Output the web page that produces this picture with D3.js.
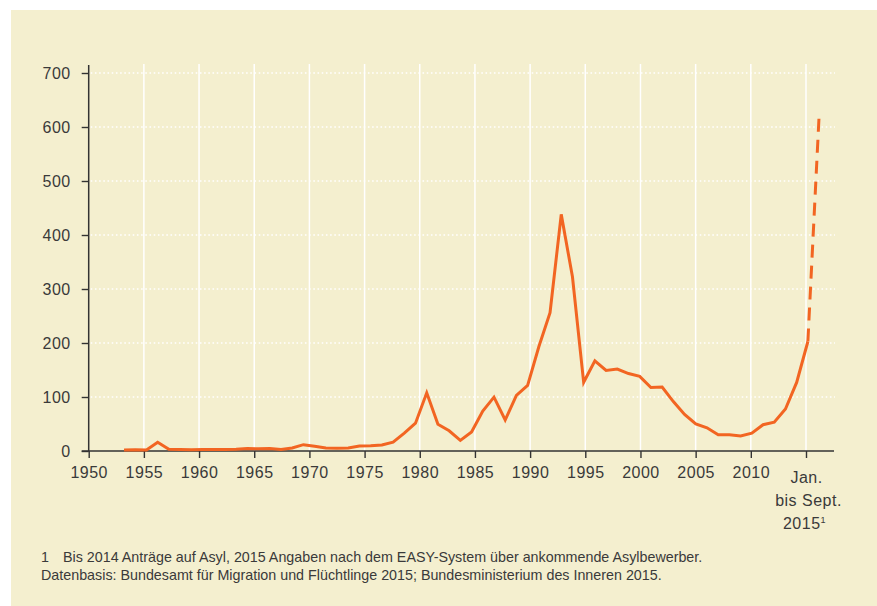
<!DOCTYPE html>
<html>
<head>
<meta charset="utf-8">
<script src="https://cdn.jsdelivr.net/npm/d3@7"></script>
<style>
  html, body { margin: 0; padding: 0; background: #ffffff; }
  svg { display: block; }
  text { font-family: "Liberation Sans", Arial, sans-serif; fill: #3a3a3a; }
</style>
</head>
<body>
<svg id="chart" width="877" height="606"></svg>
<script>
// ---- data (thousands of asylum applications) ----
const years = [1953,1954,1955,1956,1957,1958,1959,1960,1961,1962,1963,1964,1965,1966,1967,1968,1969,
  1970,1971,1972,1973,1974,1975,1976,1977,1978,1979,1980,1981,1982,1983,1984,1985,1986,1987,1988,1989,
  1990,1991,1992,1993,1994,1995,1996,1997,1998,1999,2000,2001,2002,2003,2004,2005,2006,2007,2008,2009,
  2010,2011,2012,2013,2014];
const applications = [1.9,2.2,1.9,16.3,3.1,2.8,2.3,3.0,2.7,2.6,3.2,4.5,4.3,4.4,3.0,5.6,11.7,
  8.6,5.4,5.3,5.6,9.4,9.6,11.1,16.4,33.1,51.5,107.8,49.4,37.4,19.7,35.3,73.8,99.7,57.4,103.1,121.3,
  193.1,256.1,438.2,322.6,127.2,167.0,149.2,151.7,143.4,138.3,117.6,118.3,91.5,67.8,50.2,42.9,30.1,30.3,28.0,33.0,
  48.6,53.3,77.7,127.0,202.8];
const projYears = [2014, 2015];
const projValues = [202.8, 620];
const xTicks = [1950,1955,1960,1965,1970,1975,1980,1985,1990,1995,2000,2005,2010,2015];
const lastTickLines = ["Jan.", "bis Sept.", "2015"];
const yTicks = [0,100,200,300,400,500,600,700];
const footnotes = [
  "Bis 2014 Anträge auf Asyl, 2015 Angaben nach dem EASY-System über ankommende Asylbewerber.",
  "Datenbasis: Bundesamt für Migration und Flüchtlinge 2015; Bundesministerium des Inneren 2015."
];

// ---- layout ----
const svg = d3.select("#chart");
const bg = "#f4efcf";
const orange = "#f26522";

svg.append("rect").attr("x", 11).attr("y", 10).attr("width", 866).attr("height", 596).attr("fill", bg);

const x = d3.scaleLinear().domain([1950, 2015]).range([88.7, 806]);
// data positions run on their own slightly wider scale (as in the original graphic)
const xd = d3.scaleLinear().domain([1956, 2014]).range([x(1956.25), x(2015.17)]);
const y = d3.scaleLinear().domain([0, 700]).range([451, 73]);

const gridRight = 835, gridTop = 64;

// vertical white grid lines
svg.append("g").selectAll("line").data(xTicks.slice(1)).join("line")
  .attr("x1", d => x(d)).attr("x2", d => x(d))
  .attr("y1", y(0)).attr("y2", gridTop)
  .attr("stroke", "#ffffff").attr("stroke-width", 1.5);

// horizontal dotted grid lines
svg.append("g").selectAll("line").data(yTicks.slice(1)).join("line")
  .attr("x1", x(1950) + 2).attr("x2", gridRight)
  .attr("y1", d => y(d)).attr("y2", d => y(d))
  .attr("stroke", "#ffffff").attr("stroke-width", 1.6)
  .attr("stroke-dasharray", "1.6,2.6");

// axes
const axisColor = "#333333";
const yAxis = d3.axisLeft(y).tickValues(yTicks).tickSize(7).tickPadding(11).tickFormat(d3.format("d"));
const gy = svg.append("g").attr("transform", `translate(${x(1950)},0)`).call(yAxis);
gy.select(".domain").remove();
gy.selectAll(".tick line").attr("stroke", axisColor).attr("stroke-width", 1.4);
gy.selectAll(".tick text").style("font-size", "16px").style("letter-spacing", "0.5px")
  .attr("fill", "#3a3a3a").attr("font-family", null);
svg.append("line").attr("x1", x(1950)).attr("x2", x(1950)).attr("y1", y(0)).attr("y2", 65)
  .attr("stroke", axisColor).attr("stroke-width", 1.5);

const xAxis = d3.axisBottom(x).tickValues(xTicks).tickSize(7).tickPadding(9).tickFormat(d3.format("d"));
const gx = svg.append("g").attr("transform", `translate(0,${y(0)})`).call(xAxis);
gx.select(".domain").remove();
gx.selectAll(".tick line").attr("stroke", axisColor).attr("stroke-width", 1.4);
gx.selectAll(".tick text").style("font-size", "16px").style("letter-spacing", "0.5px")
  .attr("fill", "#3a3a3a").attr("font-family", null);
svg.append("line").attr("x1", x(1950) - 7).attr("x2", 834).attr("y1", y(0)).attr("y2", y(0))
  .attr("stroke", axisColor).attr("stroke-width", 1.5);

// last tick: multi-line label
const lastTick = gx.selectAll(".tick").filter(d => d === 2015);
lastTick.select("text").remove();
const lt = lastTick.append("text").attr("text-anchor", "middle").attr("fill", "#3a3a3a")
  .style("font-size", "16px").style("letter-spacing", "0.5px");
lt.append("tspan").attr("x", 0).attr("y", 32).text(lastTickLines[0]);
lt.append("tspan").attr("x", 2).attr("y", 55).text(lastTickLines[1]);
lt.append("tspan").attr("x", -2).attr("y", 78).text(lastTickLines[2]);
lt.append("tspan").attr("dy", -6).style("font-size", "9px").text("1");

// solid line 1953-2014
const line = d3.line().x(d => xd(d[0])).y(d => y(d[1]));
svg.append("path").datum(years.map((yr, i) => [yr, applications[i]]))
  .attr("d", line).attr("fill", "none").attr("stroke", orange)
  .attr("stroke-width", 3).attr("stroke-linejoin", "miter");

// dashed projection 2014 -> Jan.-Sept. 2015
svg.append("path").datum(projYears.map((yr, i) => [yr, projValues[i]]))
  .attr("d", line).attr("fill", "none").attr("stroke", orange)
  .attr("stroke-width", 3).attr("stroke-dasharray", "13,8");

// footnotes
const fn = svg.append("g").style("font-size", "14.3px");
fn.append("text").attr("x", 41).attr("y", 562).text("1");
fn.append("text").attr("x", 63).attr("y", 562).text(footnotes[0]);
fn.append("text").attr("x", 41).attr("y", 580).text(footnotes[1]);
</script>
</body>
</html>
